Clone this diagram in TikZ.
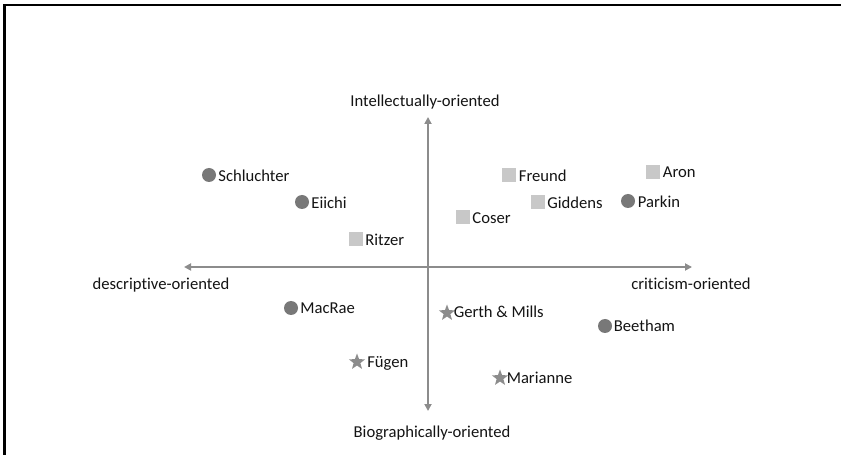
\documentclass[tikz,border=0pt]{standalone}
\usepackage{fontspec}
\setmainfont{Carlito}[Ligatures=NoCommon]
\usetikzlibrary{shapes.geometric,arrows.meta,calc}
\definecolor{dotc}{RGB}{120,120,120}
\definecolor{sqc}{RGB}{200,200,200}
\definecolor{starc}{RGB}{140,140,140}
\definecolor{axc}{RGB}{140,140,140}
\definecolor{txt}{RGB}{20,20,20}
\begin{document}
\begin{tikzpicture}[x=1bp,y=-1bp,
  font=\fontsize{16.7}{20}\selectfont,
  circ/.style={circle, fill=dotc, minimum size=14bp, inner sep=0pt},
  sq/.style={rectangle, fill=sqc, minimum size=14bp, inner sep=0pt},
  starm/.style={star, star points=5, star point ratio=2.4, fill=starc, minimum size=17bp, inner sep=0pt},
  lab/.style={anchor=base west, inner sep=0pt, text=txt},
  axlab/.style={anchor=base, inner sep=0pt, text=txt},
  axis/.style={draw=axc, line width=1.8bp, {Triangle[length=7bp,width=7bp]}-{Triangle[length=7bp,width=7bp]}},
  frame/.style={draw=black, line width=2.3bp}]
\useasboundingbox (0,0) rectangle (841,455);
\fill[white] (0,0) rectangle (841,455);
\draw[frame] (4.5,455) -- (4.5,5) -- (841,5);

% axes
\coordinate (top) at (428,117);
\coordinate (bot) at (428,411);
\coordinate (left) at (184,267);
\coordinate (right) at (692,267);
\draw[axis] (top) -- (bot);
\draw[axis] (left) -- (right);

% axis labels
\node[axlab] (intel) at (425,107) {Intellectually-oriented};
\node[axlab] (bio) at (432,437) {Biographically-oriented};
\node[axlab] (desc) at (161,289.5) {descriptive-oriented};
\node[axlab] (crit) at (691,289.5) {criticism-oriented};

% markers
\node[circ] (schluchter) at (209,175) {};
\node[circ] (eiichi) at (302,202) {};
\node[sq] (ritzer) at (356,239) {};
\node[sq] (freund) at (509,175) {};
\node[sq] (aron) at (653,172) {};
\node[sq] (giddens) at (538,202) {};
\node[circ] (parkin) at (628,201) {};
\node[sq] (coser) at (463,217) {};
\node[circ] (macrae) at (291,308) {};
\node[starm] (gerth) at (447,313) {};
\node[circ] (beetham) at (605,326) {};
\node[starm] (fuegen) at (357,362) {};
\node[starm] (marianne) at (500,378) {};

% labels
\node[lab] (schluchterl) at ($(schluchter.east)+(2,6.5)$) {Schluchter};
\node[lab] (eiichil) at ($(eiichi.east)+(2,6.5)$) {Eiichi};
\node[lab] (ritzerl) at ($(ritzer.east)+(2,6.5)$) {Ritzer};
\node[lab] (freundl) at ($(freund.east)+(2.5,6.5)$) {Freund};
\node[lab] (aronl) at ($(aron.east)+(2.5,6)$) {Aron};
\node[lab] (giddensl) at ($(giddens.east)+(2,6.5)$) {Giddens};
\node[lab] (parkinl) at ($(parkin.east)+(2.5,6.5)$) {Parkin};
\node[lab] (coserl) at ($(coser.east)+(2,6.5)$) {Coser};
\node[lab] (macrael) at ($(macrae.east)+(2,6)$) {MacRae};
\node[lab] (gerthl) at ($(gerth.east)+(1.5,5)$) {Gerth \& Mills};
\node[lab] (beethaml) at ($(beetham.east)+(1.5,5.5)$) {Beetham};
\node[lab] (fuegenl) at ($(fuegen.east)+(5,5.5)$) {Fügen};
\node[lab] (mariannel) at ($(marianne.east)+(1.5,5.5)$) {Marianne};
\end{tikzpicture}
\end{document}
